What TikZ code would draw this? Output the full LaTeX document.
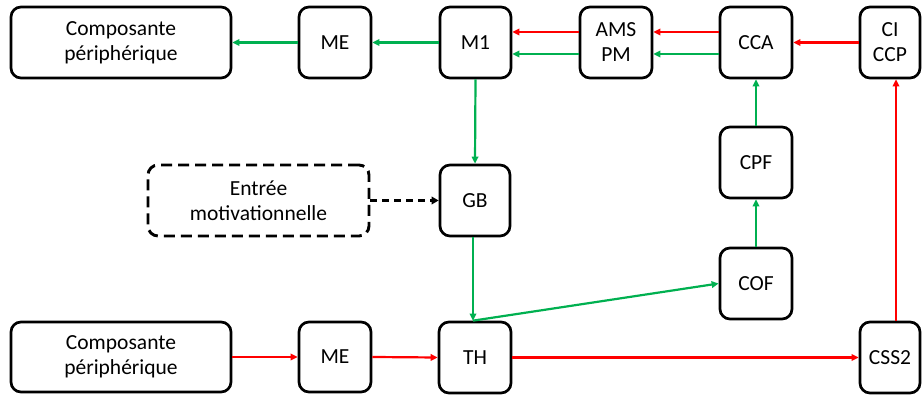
\documentclass[tikz,border=0pt]{standalone}
\usepackage{fontspec}
\setmainfont{Carlito}
\usetikzlibrary{arrows.meta}
\definecolor{ogreen}{RGB}{0,176,80}
\definecolor{ored}{RGB}{255,0,0}
\begin{document}
\begin{tikzpicture}[x=1pt,y=-1pt,
  box/.style={draw, line width=2.7pt, rounded corners=10pt, align=center,
    inner sep=0pt, font=\fontsize{21.5}{25}\selectfont},
  dbox/.style={box, dash pattern=on 11pt off 6pt, line width=2.9pt},
  garr/.style={draw=ogreen, line width=2.2pt, -{Triangle[length=7pt,width=6.5pt]}},
  rarr/.style={draw=ored, line width=2.2pt, -{Triangle[length=7pt,width=6.5pt]}},
  darr/.style={draw=black, line width=2.8pt, dash pattern=on 7pt off 5pt, -{Triangle[length=7pt,width=7.5pt]}}]
\useasboundingbox (0,0) rectangle (922,395);
% top row
\node[box, minimum width=220pt, minimum height=71pt] (cp1) at (121,42.5) {Composante\\périphérique};
\node[box, minimum width=72pt, minimum height=71pt] (me1) at (335,42.5) {ME};
\node[box, minimum width=71pt, minimum height=71pt] (m1) at (475.5,42.5) {M1};
\node[box, minimum width=72pt, minimum height=71pt] (ams) at (616,42.5) {AMS\\PM};
\node[box, minimum width=72pt, minimum height=71pt] (cca) at (756,42.5) {CCA};
\node[box, minimum width=60pt, minimum height=71pt] (ci) at (890,42.5) {CI\\CCP};
% middle
\node[box, minimum width=72pt, minimum height=71pt] (cpf) at (756,162.5) {CPF};
\node[box, minimum width=70pt, minimum height=71pt] (gb) at (475,200.5) {GB};
\node[dbox, minimum width=221pt, minimum height=71pt] (ent) at (258.5,200.5) {Entrée\\motivationnelle};
\node[box, minimum width=72pt, minimum height=71pt] (cof) at (756,283.5) {COF};
% bottom row
\node[box, minimum width=220pt, minimum height=70pt] (cp2) at (121,357) {Composante\\périphérique};
\node[box, minimum width=72pt, minimum height=70pt] (me2) at (335,357) {ME};
\node[box, minimum width=72pt, minimum height=71pt] (th) at (475,357.5) {TH};
\node[box, minimum width=60pt, minimum height=71pt] (css) at (890,357.5) {CSS2};
% connectors top
\draw[garr] (me1.west) -- (cp1.east);
\draw[garr] (m1.west) -- (me1.east);
\draw[rarr] ([yshift=10.5pt]ams.west) -- ([yshift=10.5pt]m1.east);
\draw[garr] ([yshift=-11.5pt]ams.west) -- ([yshift=-11.5pt]m1.east);
\draw[rarr] ([yshift=10.5pt]cca.west) -- ([yshift=10.5pt]ams.east);
\draw[garr] ([yshift=-11.5pt]cca.west) -- ([yshift=-11.5pt]ams.east);
\draw[rarr] (ci.west) -- (cca.east);
% vertical
\draw[garr] (m1.south) -- (gb.north);
\draw[garr] ([xshift=-2pt]gb.south) -- ([xshift=-2pt]th.north);
\draw[garr] ([xshift=-2pt]th.north) -- (cof.west);
\draw[garr] (cof.north) -- (cpf.south);
\draw[garr] (cpf.north) -- (cca.south);
\draw[rarr] ([xshift=6pt]css.north) -- ([xshift=6pt]ci.south);
\draw[darr] (ent.east) -- (gb.west);
% bottom
\draw[rarr] (cp2.east) -- (me2.west);
\draw[rarr] (me2.east) -- (th.west);
\draw[rarr] (th.east) -- (css.west);
\end{tikzpicture}
\end{document}
